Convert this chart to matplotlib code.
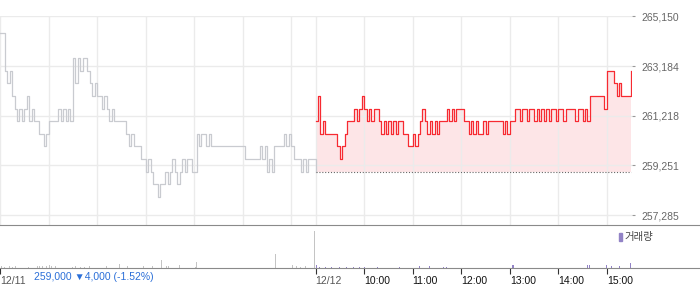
import matplotlib
matplotlib.use('Agg')
import matplotlib.pyplot as plt
from matplotlib.patches import Rectangle

plt.rcParams['font.family'] = ['Liberation Sans', 'Noto Sans CJK KR', 'DejaVu Sans']

# prices sampled every 3 minutes, 09:00 ~ 15:30 (won)
day1_price = [
    264500, 264500, 263000, 262500, 263000, 262000, 261500, 261000, 261500, 261000,
    261500, 262000, 261000, 261500, 261000, 261000, 260500, 260500, 260000, 260500,
    261000, 261000, 261000, 261000, 261500, 261000, 261500, 261000, 261500, 261000,
    263500, 262500, 263500, 263000, 263500, 263500, 263000, 262500, 262000, 262500,
    262000, 262000, 261500, 262000, 261500, 261000, 261500, 261000, 261000, 261000,
    261000, 261000, 260500, 260000, 260500, 260000, 260000, 260000, 259500, 259500,
    259000, 259500, 259000, 258500, 258500, 258000, 258500, 258500, 259000, 258500,
    259000, 259500, 259000, 258500, 259000, 259500, 259000, 259500, 259500, 259000,
    259000, 260500, 260000, 260500, 260500, 260000, 260500, 260000, 260000, 260000,
    260000, 260000, 260000, 260000, 260000, 260000, 260000, 260000, 260000, 260000,
    260000, 259500, 259500, 259500, 259500, 259500, 259500, 260000, 259500, 260000,
    259000, 259500, 259000, 260000, 260000, 260000, 260000, 260500, 260000, 260500,
    260000, 259500, 259500, 259500, 259000, 259500, 259000, 259500, 259500, 259500,
    259000,
]
day2_price = [
    261000, 262000, 260500, 261000, 260500, 260500, 260500, 260500, 260500, 260000,
    259500, 260000, 260500, 261000, 261000, 261000, 261500, 261000, 261500, 262000,
    261500, 261000, 261500, 261000, 261500, 261500, 261000, 260500, 261000, 260500,
    261000, 260500, 261000, 260500, 261000, 261000, 260500, 260500, 260000, 260000,
    260500, 260000, 260500, 261000, 261500, 261000, 260500, 261000, 260500, 261000,
    260500, 261000, 261000, 261000, 261500, 261000, 261500, 261000, 261500, 261500,
    261500, 261000, 261000, 260500, 261000, 260500, 261000, 260500, 260500, 261000,
    260500, 261000, 261000, 261000, 261000, 261000, 261000, 260500, 261000, 260500,
    261000, 261000, 261500, 261500, 261000, 261500, 261500, 261000, 261500, 261500,
    261000, 261500, 261000, 261500, 261000, 261500, 261000, 261500, 261500, 261000,
    261500, 261500, 261000, 261500, 261500, 261500, 261500, 261000, 261500, 261500,
    261000, 261500, 261000, 262000, 262000, 262000, 262000, 262000, 262000, 261500,
    263000, 263000, 263000, 262500, 262000, 262500, 262000, 262000, 262000, 262000,
    263000,
]
prev_close = 259000
y_ticks = [257285, 259251, 261218, 263184, 265150]

# volume: minute from 12/11 09:00 (12/12 starts at 390)
vol1_min = [2, 6, 12, 16, 19, 35, 46, 49, 53, 58, 61, 64, 68, 89, 93, 99, 105, 111,
            132, 148, 158, 177, 189, 200, 206, 208, 222, 241, 243, 340, 362, 367,
            371, 377, 389]
vol1_val = [400, 350, 400, 300, 400, 350, 500, 450, 600, 500, 900, 500, 400, 350,
            500, 300, 350, 400, 400, 1100, 700, 600, 400, 2600, 500, 400, 900, 300,
            2000, 4600, 900, 400, 350, 400, 12000]
vol2_min = [391, 395, 402, 410, 420, 428, 437, 444, 451, 467, 494, 519, 531, 548,
            552, 633, 635, 726, 728, 750, 756, 760, 766, 779]
vol2_val = [800, 350, 300, 350, 300, 350, 300, 350, 300, 300, 300, 700, 500, 350,
            350, 900, 900, 900, 900, 900, 400, 350, 400, 1600]

x_ticks = [0, 390, 450, 510, 570, 630, 690, 750]
x_labels = ['12/11', '12/12', '10:00', '11:00', '12:00', '13:00', '14:00', '15:00']
grid_x = [0, 60, 120, 180, 240, 300, 360, 390, 450, 510, 570, 630, 690, 750]

fig = plt.figure(figsize=(7, 2.89), dpi=100)
W, H = 700, 289
plot_w = 632

ax = fig.add_axes([0, 1 - 225 / H, plot_w / W, (225 - 16) / H])
t1 = [3 * i for i in range(len(day1_price))]
t2 = [390 + 3 * i for i in range(len(day2_price))]
ax.fill_between(t2, day2_price, prev_close, step='post', color='#fde5e7', lw=0, zorder=1)
ax.plot(t1, day1_price, color='#c9cbd0', lw=0.9, drawstyle='steps-post', zorder=3)
ax.plot(t2, day2_price, color='#f72a31', lw=0.9, drawstyle='steps-post', zorder=3)
ax.plot([390, 780], [prev_close, prev_close], color='#666666', lw=0.8,
        ls=(0, (1, 1.6)), zorder=4)
ax.set_xlim(0, 781)
ax.set_ylim(256890, 265165)
ax.set_xticks(grid_x)
ax.set_yticks(y_ticks)
ax.set_yticklabels(['{:,}'.format(v) for v in y_ticks])
ax.grid(True, color='#ebebeb', lw=1.0, zorder=0)
ax.tick_params(axis='x', length=0, labelbottom=False)
ax.tick_params(axis='y', left=False, labelleft=False, right=True, labelright=True,
               length=2, color='#999999', labelcolor='#666666', labelsize=7.5, pad=5)
for s in ax.spines.values():
    s.set_visible(False)

axv = fig.add_axes([0, 1 - 267.7 / H, 1, (267.7 - 225) / H])
axv.bar(vol1_min, vol1_val, width=1.2, color='#c4c4c4', lw=0)
axv.bar(vol2_min, vol2_val, width=1.2, color='#9283c6', lw=0)
axv.set_xlim(0, 781 * W / plot_w)
axv.set_ylim(0, max(vol1_val + vol2_val) * 1.17)
axv.set_yticks([])
axv.set_xticks(x_ticks)
axv.set_xticklabels(x_labels)
axv.tick_params(axis='x', length=4, color='#333333', labelsize=7.5, pad=2)
for i, lab in enumerate(axv.get_xticklabels()):
    lab.set_ha('left')
    lab.set_color('#555555' if i < 2 else '#111111')
for s in ['left', 'right']:
    axv.spines[s].set_visible(False)
axv.spines['top'].set_color('#8a8a8a')
axv.spines['bottom'].set_color('#8a8a8a')
axv.patch.set_alpha(0)

fig.text(34 / W, 1 - 277.5 / H, '259,000 ▼4,000 (-1.52%)', color='#2b6fd8',
         fontsize=7.5, va='center', ha='left')
fig.patches.append(Rectangle((619 / W, 1 - 241 / H), 2.5 / W, 8 / H,
                             transform=fig.transFigure, color='#9283c6'))
fig.text(624 / W, 1 - 237 / H, '거래량', color='#444444', fontsize=7.5,
         va='center', ha='left', family=['Noto Sans CJK KR', 'DejaVu Sans'])

fig.savefig('out.png', dpi=100)
